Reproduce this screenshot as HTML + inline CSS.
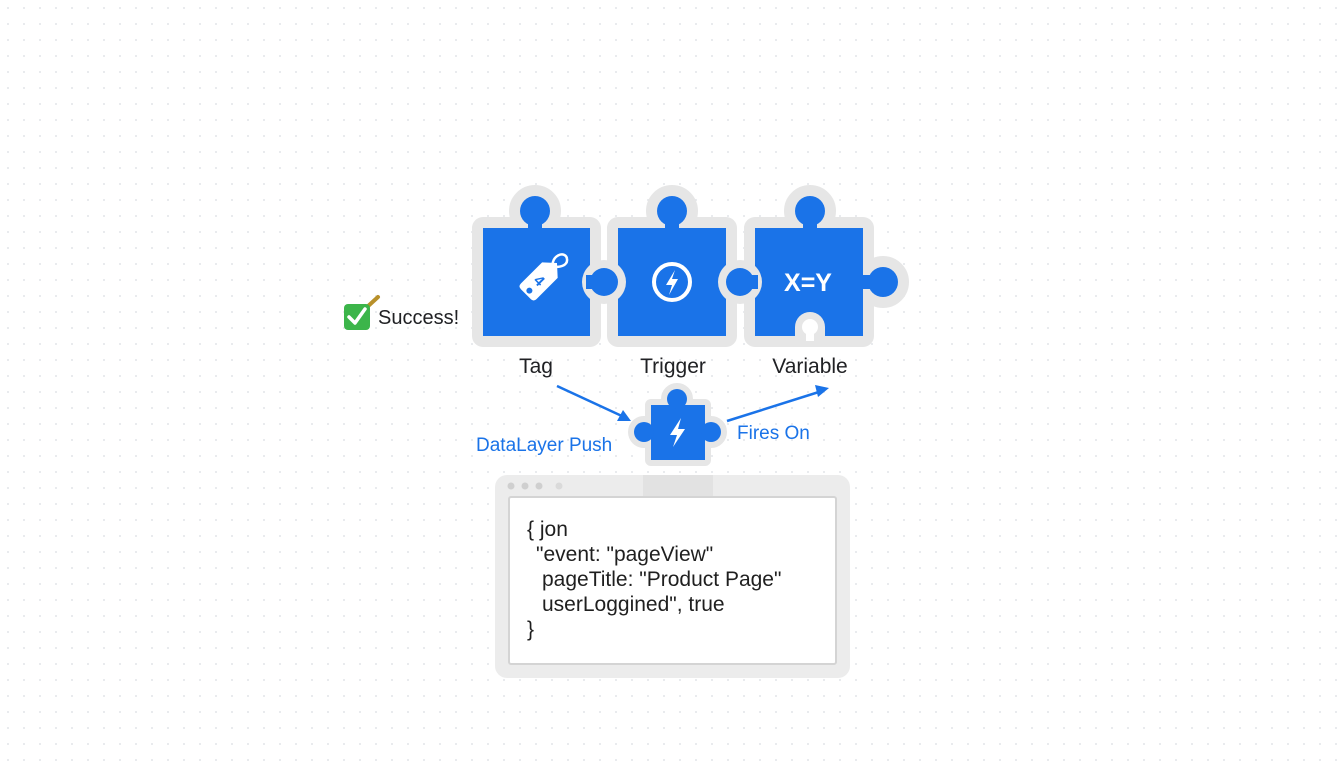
<!DOCTYPE html>
<html><head><meta charset="utf-8"><style>
html,body{margin:0;padding:0;background:#fff;}
svg{display:block;font-family:"Liberation Sans","DejaVu Sans",sans-serif;}
</style></head><body>
<svg width="1344" height="768" viewBox="0 0 1344 768" xmlns="http://www.w3.org/2000/svg">
<defs>
<pattern id="dots" width="16" height="16" patternUnits="userSpaceOnUse">
<circle cx="8" cy="8" r="0.9" fill="#d9dde2"/>
</pattern>
</defs>
<rect width="1344" height="768" fill="#fff"/>
<rect width="1344" height="768" fill="url(#dots)"/>

<g fill="#e6e6e6" stroke="#e6e6e6" stroke-width="22" stroke-linejoin="round">
<rect x="483" y="228" width="107" height="108"/>
<circle cx="535" cy="211" r="15"/>
<rect x="618" y="228" width="108" height="108"/>
<circle cx="672" cy="211" r="15"/>
<rect x="755" y="228" width="108" height="108"/>
<circle cx="810" cy="211" r="15"/>
<circle cx="883" cy="282" r="15"/>
</g>
<line x1="604" y1="225" x2="604" y2="340" stroke="#fff" stroke-width="2"/>
<line x1="740" y1="225" x2="740" y2="340" stroke="#fff" stroke-width="2"/>
<g fill="#1a73e8">
<rect x="483" y="228" width="107" height="108"/>
<circle cx="535" cy="211" r="15"/>
<rect x="528" y="215" width="14" height="16"/>
<rect x="618" y="228" width="108" height="108"/>
<circle cx="672" cy="211" r="15"/>
<rect x="665" y="215" width="14" height="16"/>
<rect x="755" y="228" width="108" height="108"/>
<circle cx="810" cy="211" r="15"/>
<rect x="803" y="215" width="14" height="16"/>
<circle cx="883" cy="282" r="15"/>
<rect x="860" y="275" width="20" height="14"/>
</g>
<circle cx="604" cy="282" r="22" fill="#e6e6e6"/>
<circle cx="604" cy="282" r="14" fill="#1a73e8"/>
<rect x="586" y="275" width="16" height="14" fill="#1a73e8"/>
<circle cx="740" cy="282" r="22" fill="#e6e6e6"/>
<circle cx="740" cy="282" r="14" fill="#1a73e8"/>
<rect x="742" y="275" width="16" height="14" fill="#1a73e8"/>
<!-- variable bottom notch -->
<circle cx="810" cy="327" r="15" fill="#e6e6e6"/>
<rect x="795" y="327" width="30" height="20" fill="#e6e6e6"/>
<circle cx="810" cy="327" r="8" fill="#fff"/>
<rect x="806" y="327" width="8" height="14" fill="#fff"/>

<g fill="#e6e6e6" stroke="#e6e6e6" stroke-width="12" stroke-linejoin="round">
<rect x="651" y="405" width="54" height="55"/>
<circle cx="677" cy="399" r="10"/>
<circle cx="644" cy="432" r="10"/>
<circle cx="711" cy="432" r="10"/>
</g>
<g fill="#1a73e8">
<rect x="651" y="405" width="54" height="55"/>
<circle cx="677" cy="399" r="10"/>
<circle cx="644" cy="432" r="10"/>
<circle cx="711" cy="432" r="10"/>
</g>

<g transform="translate(540,280) rotate(45)">
<path d="M-11,-16 Q-11,-20 -7,-20 L7,-20 Q11,-20 11,-16 L11,14 L0,24 L-11,14 Z" fill="#fff" transform="rotate(180)"/>
<circle cx="0" cy="-12" r="3" fill="#1a73e8" transform="rotate(180) translate(0,-3)"/>
<text x="0" y="6" font-size="15" font-weight="bold" fill="#1a73e8" text-anchor="middle">4</text>
</g>
<path d="M553,268 C550,255 566,250 567,259 C568,266 558,268 554,266" fill="none" stroke="#fff" stroke-width="2.5"/>
<circle cx="672" cy="282" r="18" fill="none" stroke="#fff" stroke-width="4"/>
<path d="M675,270 L666,285 L672,285 L669,295 L678,279 L672,279 Z" fill="#fff"/>
<text x="808" y="291" font-size="25" font-weight="bold" fill="#fff" text-anchor="middle">X=Y</text>
<path d="M681,418 L670,435 L677,435 L673,447 L685,429 L678,429 Z" fill="#fff"/>

<g font-size="21" fill="#202124" text-anchor="middle">
<text x="536" y="373">Tag</text>
<text x="673" y="373">Trigger</text>
<text x="810" y="373">Variable</text>
</g>

<g stroke="#1a73e8" stroke-width="2.5" fill="none">
<line x1="557" y1="386" x2="624" y2="417"/>
<line x1="727" y1="421" x2="822" y2="391"/>
</g>
<path d="M631,421 L617,421 L623,410 Z" fill="#1a73e8"/>
<path d="M829,388 L815,385 L818,397 Z" fill="#1a73e8"/>
<g font-size="19" fill="#1a73e8">
<text x="476" y="451">DataLayer Push</text>
<text x="737" y="439">Fires On</text>
</g>

<line x1="366" y1="308" x2="378" y2="297" stroke="#b8902a" stroke-width="4" stroke-linecap="round"/>
<rect x="344" y="304" width="26" height="26" rx="4" fill="#3cb54a"/>
<path d="M349,317 L355,323 L365,309" fill="none" stroke="#fff" stroke-width="3.5" stroke-linecap="round" stroke-linejoin="round"/>
<text x="378" y="324" font-size="20" fill="#202124">Success!</text>

<rect x="495" y="475" width="355" height="203" rx="12" fill="#ececec"/>
<rect x="643" y="475" width="70" height="22" fill="#e2e2e2"/>
<circle cx="511" cy="486" r="3.5" fill="#cfcfcf"/>
<circle cx="525" cy="486" r="3.5" fill="#cfcfcf"/>
<circle cx="539" cy="486" r="3.5" fill="#cfcfcf"/>
<circle cx="559" cy="486" r="3.5" fill="#dadada"/>
<rect x="509" y="497" width="327" height="167" rx="2" fill="#fff" stroke="#d4d4d4" stroke-width="2"/>
<g font-size="21" fill="#1f1f1f">
<text x="527" y="536">{ jon</text>
<text x="536" y="561">"event:  "pageView"</text>
<text x="542" y="586">pageTitle:  "Product Page"</text>
<text x="542" y="611">userLoggined", true</text>
<text x="527" y="636">}</text>
</g>
</svg>
</body></html>
